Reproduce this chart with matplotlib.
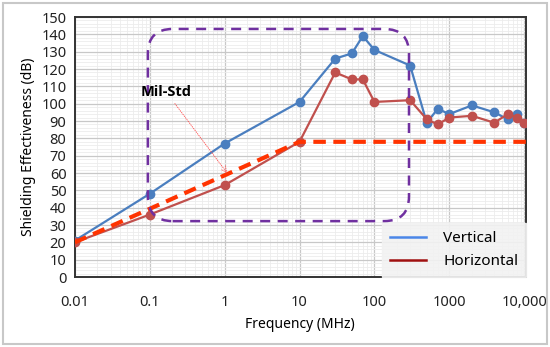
import matplotlib
matplotlib.use('Agg')
import matplotlib.pyplot as plt
from matplotlib.lines import Line2D
from matplotlib.patches import FancyBboxPatch, Rectangle
from matplotlib.ticker import FixedLocator, NullFormatter, LogLocator

plt.rcParams['font.family'] = ['Noto Sans', 'DejaVu Sans']

# frequencies (MHz) and shielding effectiveness (dB)
freq = [0.01, 0.1, 1, 10, 30, 50, 70, 100, 300, 500, 700, 1000, 2000,
        4000, 6000, 8000, 10000]
vertical = [21, 48, 77, 101, 126, 129, 139, 131, 122, 89, 97, 94, 99,
            95, 91, 94, 89]
horizontal = [20, 36, 53, 78, 118, 114, 114, 101, 102, 91, 88, 92, 93,
              89, 94, 92, 89]
milstd_freq = [0.01, 10, 12000]
milstd = [20, 78, 78]

x_ticks = [0.01, 0.1, 1, 10, 100, 1000, 10000]
x_labels = ['0.01', '0.1', '1', '10', '100', '1000', '10,000']
y_ticks = list(range(0, 151, 10))

blue = '#4a7ebf'
red = '#c0504d'

fig = plt.figure(figsize=(5.5, 3.47), dpi=100)
ax = fig.add_axes([0.136, 0.2017, 0.820, 0.7493])

# light border round the whole picture
fig.patches.append(Rectangle((0.005, 0.008), 0.99, 0.984, transform=fig.transFigure,
                             fill=False, edgecolor='#c8c8c8', lw=1.5))

ax.plot(freq, vertical, color=blue, lw=1.6, marker='o', ms=6, zorder=4)
ax.plot(freq, horizontal, color=red, lw=1.6, marker='o', ms=6, zorder=4)
ax.plot(milstd_freq, milstd, color='#ff3300', lw=3, ls=(0, (3, 1.8)), zorder=5)

ax.set_xscale('log')
ax.set_xlim(0.01, 10500)
ax.set_ylim(0, 150)
ax.xaxis.set_major_locator(FixedLocator(x_ticks))
ax.set_xticklabels(x_labels)
ax.xaxis.set_minor_locator(LogLocator(base=10, subs=range(2, 10), numticks=20))
ax.xaxis.set_minor_formatter(NullFormatter())
ax.set_yticks(y_ticks)
ax.yaxis.set_minor_locator(FixedLocator(range(0, 151, 2)))

ax.grid(which='major', color='#c8c8c8', lw=0.9)
ax.grid(which='minor', color='#ececec', lw=0.6)
ax.set_axisbelow(True)
ax.tick_params(which='both', length=0)
ax.tick_params(axis='both', labelsize=10.5, colors='#222222', pad=6)
ax.tick_params(axis='x', pad=13)
for s in ax.spines.values():
    s.set_color('#333333')
    s.set_linewidth(1.4)

ax.set_xlabel('Frequency (MHz)', fontsize=10, labelpad=5)
ax.set_ylabel('Shielding Effectiveness (dB)', fontsize=10, labelpad=4)

# dashed purple rounded box
box = FancyBboxPatch((0.162, 0.215), 0.579, 0.739, transform=ax.transAxes,
                     boxstyle='round,pad=0,rounding_size=0.055',
                     mutation_aspect=451 / 260, fill=False,
                     edgecolor='#7030a0', lw=1.8, ls=(0, (4, 3)), zorder=6)
ax.add_patch(box)

ax.annotate('Mil-Std', xy=(1.08, 60), xytext=(0.165, 107),
            fontsize=10.5, fontweight='bold', family=['Open Sans', 'DejaVu Sans'],
            ha='center', va='center',
            arrowprops=dict(arrowstyle='->', color='#ff5050', lw=0.6,
                            ls=':', relpos=(0.6, 0), shrinkA=2, shrinkB=0),
            zorder=7)

handles = [Line2D([], [], color='#4a86e8', lw=1.8),
           Line2D([], [], color='#a01010', lw=1.8)]
leg = ax.legend(handles, ['Vertical', 'Horizontal'], loc='lower right',
                fontsize=11, frameon=True, fancybox=False,
                borderaxespad=0, handlelength=2.4, handletextpad=1.1,
                labelspacing=0.55, borderpad=0.5)
leg.get_frame().set_facecolor('#f2f2f2')
leg.get_frame().set_edgecolor('#f2f2f2')
leg.get_frame().set_alpha(0.9)
leg.set_zorder(8)

fig.savefig('out.png', dpi=100)
